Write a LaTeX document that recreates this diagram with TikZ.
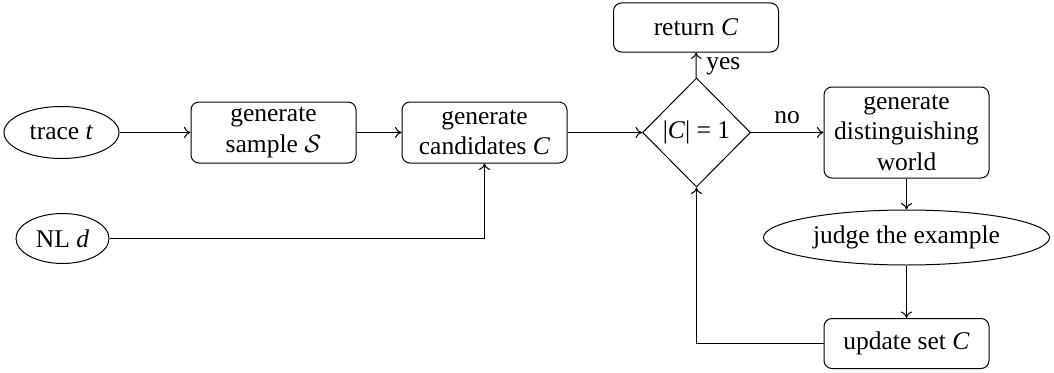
\documentclass[tikz,border=0pt]{standalone}
\usepackage{fontspec}
\setmainfont{Liberation Serif}
\usetikzlibrary{shapes.geometric,arrows.meta}
\begin{document}
\begin{tikzpicture}[x=0.4pt,y=-0.4pt,
  every node/.style={font=\fontsize{10.2}{12.2}\selectfont},
  procbox/.style={draw, rounded corners=3.2pt, minimum width=66pt, align=center, inner sep=0pt, line width=0.4pt},
  term/.style={draw, ellipse, inner sep=0pt, line width=0.4pt},
  decide/.style={draw, diamond, inner sep=0pt, minimum width=43.2pt, minimum height=43.6pt, line width=0.4pt},
  conn/.style={-{To[length=2.6pt,width=4.4pt]}, line width=0.4pt}]
\useasboundingbox (0,0) rectangle (1054,373);
\node[term, minimum width=46pt, minimum height=20.8pt] (trace) at (61.5,132.5) {trace \textit{t}};
\node[term, minimum width=37.2pt, minimum height=20pt] (nl) at (62.5,238.5) {NL \textit{d}};
\node[procbox, minimum height=24.4pt] (sample) at (273.5,132.5) {generate\\sample $\mathcal{S}$};
\node[procbox, minimum height=24.4pt] (cand) at (484.5,132.5) {generate\\candidates \textit{C}};
\node[decide] (dec) at (696.5,132.5) {|\textit{C}| = 1};
\node[procbox, minimum height=19.6pt] (ret) at (696,27.5) {return \textit{C}};
\node[procbox, minimum height=36.4pt] (dist) at (906.5,132.5) {generate\\distinguishing\\world};
\node[term, minimum width=114.4pt, minimum height=22pt] (judge) at (906.5,237.5) {judge the example};
\node[procbox, minimum height=20pt] (upd) at (906.5,343.5) {update set \textit{C}};
\node (no) at (787,118) {no};
\node[anchor=west] (yes) at (697.5,66) {yes};
\draw[conn] (trace) -- (sample);
\draw[conn] (sample) -- (cand);
\draw[conn] (cand) -- (dec);
\draw[conn] (dec) -- (ret);
\draw[conn] (dec) -- (dist);
\draw[conn] (dist) -- (judge);
\draw[conn] (judge) -- (upd);
\draw[conn] (nl.east) -| (cand.south);
\draw[conn] (upd.west) -| (dec.south);
\end{tikzpicture}
\end{document}
